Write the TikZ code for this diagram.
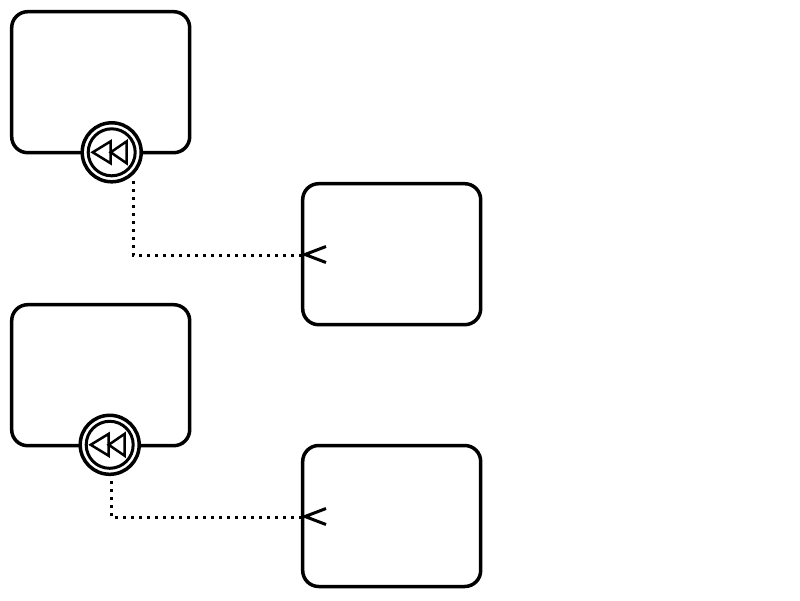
\documentclass[tikz,border=0pt]{standalone}
\tikzset{
  taskbox/.style={draw=black,line width=3.5pt,rounded corners=16pt,minimum width=178pt,minimum height=141pt,inner sep=0pt,outer sep=0pt},
  ringouter/.style={circle,draw=black,fill=white,line width=3.5pt,minimum size=59pt,inner sep=0pt,outer sep=0pt},
  ringinner/.style={circle,draw=black,fill=white,line width=3pt,minimum size=47pt,inner sep=0pt,outer sep=0pt},
  flowline/.style={line width=3pt,dash pattern=on 3pt off 5pt},
  openhead/.style={line width=3pt},
  tri/.style={line width=2.5pt,line join=miter}
}
\newcommand{\rewind}[2]{%
  \draw[tri] (#1-19,#2) -- (#1-1,#2-11) -- (#1-1,#2+11) -- cycle;
  \draw[tri] (#1-1,#2) -- (#1+15,#2-11) -- (#1+15,#2+11) -- cycle;
}
\begin{document}
\begin{tikzpicture}[x=1pt,y=-1pt]
\useasboundingbox (0,0) rectangle (800,600);
\node[taskbox] (a) at (100.7,82.2) {};
\node[taskbox] (b) at (391.7,254.2) {};
\node[taskbox] (c) at (100.7,375.2) {};
\node[taskbox] (d) at (391.7,516) {};
\node[ringouter] (ra) at (111.7,152.3) {};
\node[ringinner] (ria) at (111.7,152.3) {};
\rewind{111.7}{152.3}
\node[ringouter] (rc) at (109.7,444.8) {};
\node[ringinner] (ric) at (109.7,444.8) {};
\rewind{109.7}{444.8}
\coordinate (s1) at (133.3,181);
\coordinate (e1) at (303,255);
\coordinate (s2) at (111.3,481);
\coordinate (e2) at (303,517);
\draw[flowline] (s1) |- (e1);
\draw[flowline] (s2) |- (e2);
\draw[openhead] (326,246.5) -- (305,254.5) -- (326,262.5);
\draw[openhead] (326,508.5) -- (305,516.5) -- (326,524.5);
\end{tikzpicture}
\end{document}
